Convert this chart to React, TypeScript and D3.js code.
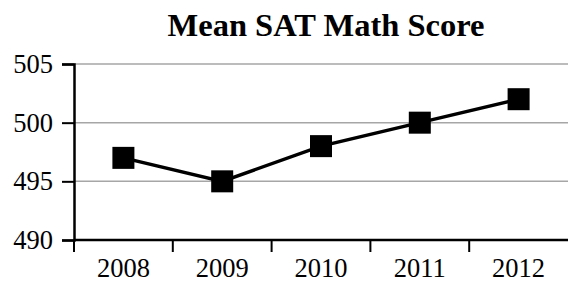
import { useEffect, useRef } from "react";
import * as d3 from "d3";

const width = 568;
const height = 284;
const margin = { top: 64, right: 0, bottom: 44, left: 74 };

const years = ["2008", "2009", "2010", "2011", "2012"];
const scores = [497, 495, 498, 500, 502];
const yTicks = [490, 495, 500, 505];

const font = "'Liberation Serif', 'Times New Roman', serif";

const App = () => {
  const xAxisRef = useRef<SVGGElement>(null);
  const yAxisRef = useRef<SVGGElement>(null);

  const x = d3.scaleBand().domain(years).range([margin.left, width - margin.right]);
  const y = d3.scaleLinear().domain([490, 505]).range([height - margin.bottom, margin.top]);

  const line = d3
    .line<number>()
    .x((_, i) => (x(years[i]) as number) + x.bandwidth() / 2)
    .y((d) => y(d));

  useEffect(() => {
    // category ticks sit on band edges, labels in the middle
    const xa = d3.select(xAxisRef.current);
    xa.selectAll("*").remove();
    xa.append("line")
      .attr("x1", margin.left)
      .attr("x2", width)
      .attr("stroke", "#000")
      .attr("stroke-width", 2.5);
    years.forEach((yr) => {
      const x0 = x(yr) as number;
      xa.append("line")
        .attr("x1", x0)
        .attr("x2", x0)
        .attr("y1", 0)
        .attr("y2", 12)
        .attr("stroke", "#000")
        .attr("stroke-width", 2);
      xa.append("text")
        .attr("x", x0 + x.bandwidth() / 2)
        .attr("y", 37)
        .attr("text-anchor", "middle")
        .attr("font-family", font)
        .attr("font-size", 26.5)
        .text(yr);
    });

    const ya = d3.select(yAxisRef.current);
    ya.call(d3.axisLeft(y).tickValues(yTicks).tickSize(12).tickPadding(9).tickFormat(d3.format("d")));
    ya.select(".domain").attr("stroke-width", 2.5);
    ya.selectAll(".tick line").attr("stroke-width", 2);
    ya.selectAll(".tick text")
      .attr("font-family", font)
      .attr("font-size", 26.5)
      .attr("fill", "#000");
  }, []);

  return (
    <svg width={width} height={height} style={{ position: "absolute", left: 0, top: 0 }}>
      <rect width={width} height={height} fill="#fff" />
      <text x={326} y={36} textAnchor="middle" fontFamily={font} fontWeight="bold" fontSize={32.5}>
        Mean SAT Math Score
      </text>
      {yTicks.slice(1).map((t) => (
        <line key={t} x1={margin.left} x2={width} y1={y(t)} y2={y(t)} stroke="#a6a6a6" strokeWidth={1.5} />
      ))}
      <path d={line(scores) ?? ""} fill="none" stroke="#000" strokeWidth={3.5} />
      {scores.map((s, i) => (
        <rect
          key={i}
          x={(x(years[i]) as number) + x.bandwidth() / 2 - 11}
          y={y(s) - 11}
          width={22}
          height={22}
          fill="#000"
        />
      ))}
      <g ref={xAxisRef} transform={`translate(0, ${height - margin.bottom})`} />
      <g ref={yAxisRef} transform={`translate(${margin.left}, 0)`} />
    </svg>
  );
};

export default App;
